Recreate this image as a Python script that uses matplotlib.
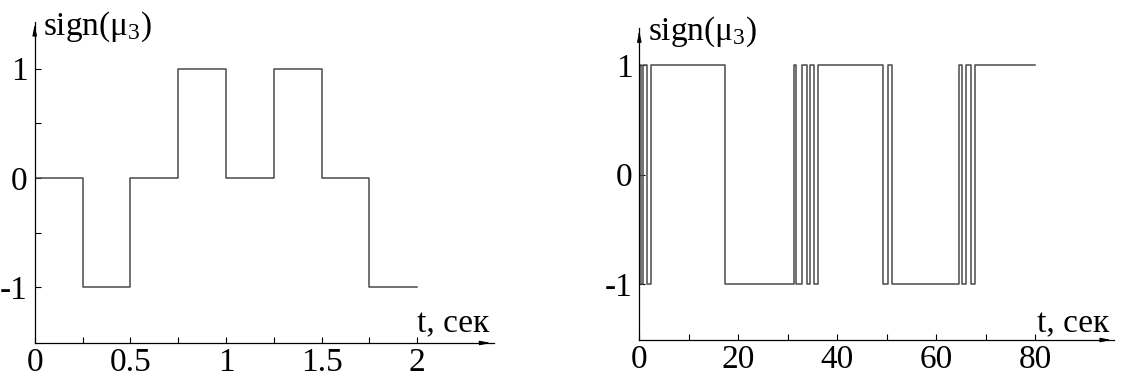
import matplotlib
matplotlib.use("Agg")
import matplotlib.pyplot as plt
from matplotlib.ticker import FixedLocator

# ---- data ----
left_t = [0, 0.25, 0.5, 0.75, 1.0, 1.25, 1.5, 1.75, 2.0]
left_sign = [0, -1, 0, 1, 0, 1, 0, -1, -1]

right_t = [0, 0.27, 0.74, 1.6, 2.3, 17.3, 31.3, 31.75, 32.9, 33.9, 34.6, 35.4,
           36.2, 49.2, 50.3, 51.0, 64.6, 65.2, 66.1, 67.1, 67.8, 80]
right_sign = [1, -1, 1, -1, 1, -1, 1, -1, 1, -1, 1, -1,
              1, -1, 1, -1, 1, -1, 1, -1, 1, 1]

left_xticks = [0, 0.5, 1, 1.5, 2]
left_xticklabels = ["0", "0.5", "1", "1.5", "2"]
left_xminor = [0.25, 0.75, 1.25, 1.75]
right_xticks = [0, 20, 40, 60, 80]
right_xticklabels = ["0", "20", "40", "60", "80"]
right_xminor = [10, 30, 50, 70]
yticks = [-1, 0, 1]
yticklabels = ["-1", "0", "1"]

ylabel = "sign(μ$_3$)"
xlabel = "t, сек"

plt.rcParams["font.family"] = ["Liberation Serif", "DejaVu Serif"]
plt.rcParams["mathtext.fontset"] = "custom"
plt.rcParams["mathtext.rm"] = "Liberation Serif"
plt.rcParams["mathtext.it"] = "Liberation Serif:italic"

W, H = 1138, 380
fig = plt.figure(figsize=(W / 100, H / 100), dpi=100)

FS = 24
LINE_C = "#4a4a4a"


def setup(ax, xlim, ylim, xticks, xlabels, xminor, yminor, xl_pos, yl_pos):
    ax.set_xlim(*xlim)
    ax.set_ylim(*ylim)
    for s in ("top", "right"):
        ax.spines[s].set_visible(False)
    for s in ("left", "bottom"):
        ax.spines[s].set_linewidth(0.9)
        ax.spines[s].set_color("black")
    ax.set_xticks(xticks)
    ax.set_xticklabels(xlabels)
    ax.xaxis.set_minor_locator(FixedLocator(xminor))
    ax.set_yticks(yticks)
    ax.set_yticklabels(yticklabels)
    if yminor:
        ax.yaxis.set_minor_locator(FixedLocator(yminor))
    ax.tick_params(axis="both", which="both", direction="in", length=4,
                   width=0.8, labelsize=FS)
    ax.tick_params(axis="x", which="major", pad=3)
    ax.tick_params(axis="y", which="major", pad=5)
    # arrows at axis ends
    ax.annotate("", xy=(1.0, 0), xytext=(0.97, 0), xycoords="axes fraction",
                arrowprops=dict(arrowstyle="-|>,head_length=0.6,head_width=0.12",
                                color="black", lw=0.9), annotation_clip=False)
    ax.annotate("", xy=(0, 1.0), xytext=(0, 0.97), xycoords="axes fraction",
                arrowprops=dict(arrowstyle="-|>,head_length=0.6,head_width=0.12",
                                color="black", lw=0.9), annotation_clip=False)
    ax.text(yl_pos[0], yl_pos[1], ylabel, fontsize=FS, ha="left", va="baseline")
    ax.text(xl_pos[0], xl_pos[1], xlabel, fontsize=FS, ha="left", va="baseline")


ax1 = fig.add_axes([34.7 / W, 37 / H, 459 / W, 321.3 / H])
ax1.step(left_t, left_sign, where="post", color=LINE_C, lw=1.1)
setup(ax1, (0, 2.4), (-1.51, 1.43), left_xticks, left_xticklabels, left_xminor,
      [-0.5, 0.5], (2.0, -1.415), (0.043, 1.31))

ax2 = fig.add_axes([639.3 / W, 40 / H, 475 / W, 312 / H])
ax2.step(right_t, right_sign, where="post", color=LINE_C, lw=1.1)
setup(ax2, (0, 96), (-1.507, 1.338), right_xticks, right_xticklabels, right_xminor,
      None, (80.3, -1.435), (1.76, 1.23))

fig.savefig("out.png", dpi=100)
